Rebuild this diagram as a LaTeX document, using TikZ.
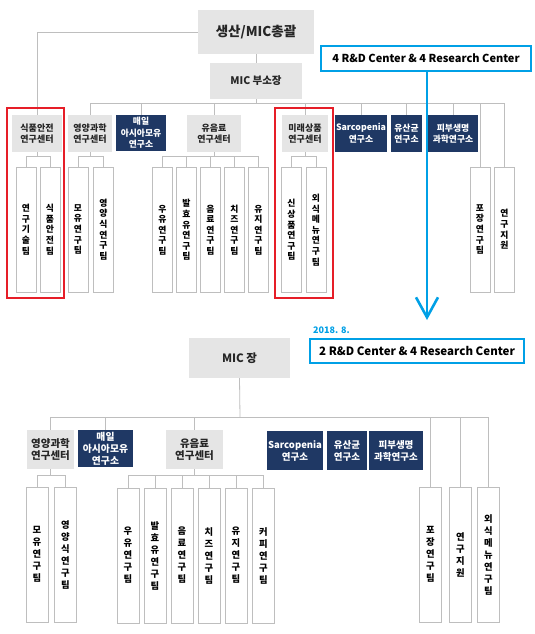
\documentclass[tikz,border=0pt]{standalone}
\usepackage{fontspec}
\setmainfont{Noto Sans CJK KR}
\usetikzlibrary{arrows.meta}

\definecolor{hdgray}{RGB}{229,229,229}
\definecolor{navy}{RGB}{31,56,100}
\definecolor{linegray}{RGB}{190,190,190}
\definecolor{redline}{RGB}{230,30,40}
\definecolor{skyblue}{RGB}{0,160,230}

\begin{document}
\begin{tikzpicture}[x=1pt, y=-1pt,
  hd/.style={fill=hdgray, inner sep=0pt, align=center, text=black!85, font=\bfseries\fontsize{9}{11.5}\selectfont},
  lab/.style={fill=navy, text=white, inner sep=0pt, align=center, font=\bfseries\fontsize{8.8}{11.5}\selectfont},
  big/.style={font=\bfseries\fontsize{10.5}{12.5}\selectfont},
  team/.style={draw=linegray, fill=white, inner sep=0pt, align=center, minimum width=20, minimum height=125, font=\bfseries\fontsize{8.8}{10.6}\selectfont},
  teamb/.style={team, minimum width=22, minimum height=135, font=\bfseries\fontsize{9.3}{12}\selectfont},
  link/.style={draw=linegray, line width=0.8pt},
  redframe/.style={draw=redline, line width=2.6pt},
  notebox/.style={draw=skyblue, line width=2.6pt, fill=white, inner sep=0pt}]
\useasboundingbox (0,0) rectangle (535,634);
\fill[white] (0,0) rectangle (535,634);

% before
\node[hd, minimum width=116, minimum height=44, font=\bfseries\fontsize{13.5}{15}\selectfont] (gm) at (256,32) {생산/MIC총괄};
\node[hd, minimum width=92, minimum height=36, font=\bfseries\fontsize{10.5}{12}\selectfont] (vice) at (256,81) {MIC 부소장};
\coordinate (busT) at (256,103);

\node[hd, minimum width=50, minimum height=37] (fs) at (37,133.5) {식품안전\\연구센터};
\node[hd, minimum width=44, minimum height=37] (yg) at (90,133.5) {영양과학\\연구센터};
\node[lab, minimum width=50, minimum height=36] (my) at (141,133) {매일\\아시아모유\\연구소};
\node[hd, minimum width=54, minimum height=37] (yu) at (214,133.5) {유음료\\연구센터};
\node[hd, minimum width=46, minimum height=37] (mr) at (305,133.5) {미래상품\\연구센터};
\node[lab, minimum width=52, minimum height=37] (sa) at (361,133.5) {Sarcopenia\\연구소};
\node[lab, minimum width=31, minimum height=37] (ys) at (406.5,133.5) {유산균\\연구소};
\node[lab, minimum width=50, minimum height=37] (pb) at (453,133.5) {피부생명\\과학연구소};

\node[team] (fs1) at (26,229.5) {연\\구\\기\\술\\팀};
\node[team] (fs2) at (50,229.5) {식\\품\\안\\전\\팀};
\node[team] (yg1) at (78,229.5) {모\\유\\연\\구\\팀};
\node[team] (yg2) at (103.5,229.5) {영\\양\\식\\연\\구\\팀};
\node[team] (yu1) at (162.5,230) {우\\유\\연\\구\\팀};
\node[team] (yu2) at (186.5,230) {발\\효\\유\\연\\구\\팀};
\node[team] (yu3) at (210.5,230) {음\\료\\연\\구\\팀};
\node[team] (yu4) at (234.5,230) {치\\즈\\연\\구\\팀};
\node[team] (yu5) at (258.5,230) {유\\지\\연\\구\\팀};
\node[team] (mr1) at (291.5,230) {신\\상\\품\\연\\구\\팀};
\node[team] (mr2) at (316,230) {외\\식\\메\\뉴\\연\\구\\팀};
\node[team] (pj) at (480,229.5) {포\\장\\연\\구\\팀};
\node[team] (jw) at (504.5,229.5) {연\\구\\지\\원};

\draw[link] (gm.south) -- (vice.north);
\draw[link] (vice.south) -- (busT);
\draw[link] (gm.west) -| (fs.north);
\draw[link] (yg.north |- busT) -- (jw.north |- busT);
\foreach \n in {yg,my,yu,mr,sa,ys,pb,pj,jw}
  \draw[link] (\n.north) -- (\n.north |- busT);
\foreach \p/\c in {fs/fs1,fs/fs2,yg/yg1,yg/yg2,yu/yu1,yu/yu2,yu/yu3,yu/yu4,yu/yu5,mr/mr1,mr/mr2}
  \draw[link] (\p.south) -- +(0,4) -| (\c.north);

\draw[redframe] (7,108) rectangle (64,298);
\draw[redframe] (275,108) rectangle (333,298);

% change
\node[notebox, minimum width=210, minimum height=25, font=\bfseries\fontsize{11}{13}\selectfont] (old) at (426,58.5) {4 R\&D Center \& 4 Research Center};
\coordinate (tip) at (427,320);
\draw[skyblue, line width=2.6pt, -{Straight Barb[length=20pt, width=22pt]}] (old.south -| tip) -- (tip);
\node[text=skyblue, anchor=west, inner sep=0pt, font=\bfseries\fontsize{9}{11}\selectfont] (date) at (313,330) {2018. 8.};
\node[notebox, minimum width=214, minimum height=24, font=\bfseries\fontsize{11.5}{13}\selectfont] (new) at (417,351) {2 R\&D Center \& 4 Research Center};

% after
\node[hd, minimum width=101, minimum height=40, font=\bfseries\fontsize{11.5}{13}\selectfont] (mc) at (239.5,358) {MIC 장};
\coordinate (busB) at (240,417);

\node[hd, big, minimum width=47, minimum height=39] (byg) at (50.5,449.5) {영양과학\\연구센터};
\node[lab, minimum width=55, minimum height=37, font=\bfseries\fontsize{9.8}{12}\selectfont] (bmy) at (105.5,448.5) {매일\\아시아모유\\연구소};
\node[hd, big, minimum width=57, minimum height=39] (byu) at (194.5,449.5) {유음료\\연구센터};
\node[lab, minimum width=56, minimum height=39, font=\bfseries\fontsize{9.5}{12}\selectfont] (bsa) at (295,450.5) {Sarcopenia\\연구소};
\node[lab, minimum width=40, minimum height=39, font=\bfseries\fontsize{9.5}{12}\selectfont] (bys) at (347,450.5) {유산균\\연구소};
\node[lab, minimum width=54, minimum height=39, font=\bfseries\fontsize{9.5}{12}\selectfont] (bpb) at (396,450.5) {피부생명\\과학연구소};

\node[teamb] (byg1) at (37,554.5) {모\\유\\연\\구\\팀};
\node[teamb] (byg2) at (65.5,554.5) {영\\양\\식\\연\\구\\팀};
\node[teamb] (byu1) at (128,555.5) {우\\유\\연\\구\\팀};
\node[teamb] (byu2) at (155,555.5) {발\\효\\유\\연\\구\\팀};
\node[teamb] (byu3) at (182,555.5) {음\\료\\연\\구\\팀};
\node[teamb] (byu4) at (209,555.5) {치\\즈\\연\\구\\팀};
\node[teamb] (byu5) at (236,555.5) {유\\지\\연\\구\\팀};
\node[teamb] (byu6) at (263.5,555.5) {커\\피\\연\\구\\팀};
\node[teamb] (bpj) at (430.5,554.5) {포\\장\\연\\구\\팀};
\node[teamb] (bjw) at (460.5,554.5) {연\\구\\지\\원};
\node[teamb] (bwm) at (488.5,554.5) {외\\식\\메\\뉴\\연\\구\\팀};

\draw[link] (mc.south) -- (busB);
\draw[link] (byg.north |- busB) -- (bwm.north |- busB);
\foreach \n in {byg,bmy,byu,bpj,bjw,bwm}
  \draw[link] (\n.north) -- (\n.north |- busB);
\foreach \p/\c in {byg/byg1,byg/byg2,byu/byu1,byu/byu2,byu/byu3,byu/byu4,byu/byu5,byu/byu6}
  \draw[link] (\p.south) -- +(0,6) -| (\c.north);
\end{tikzpicture}
\end{document}
